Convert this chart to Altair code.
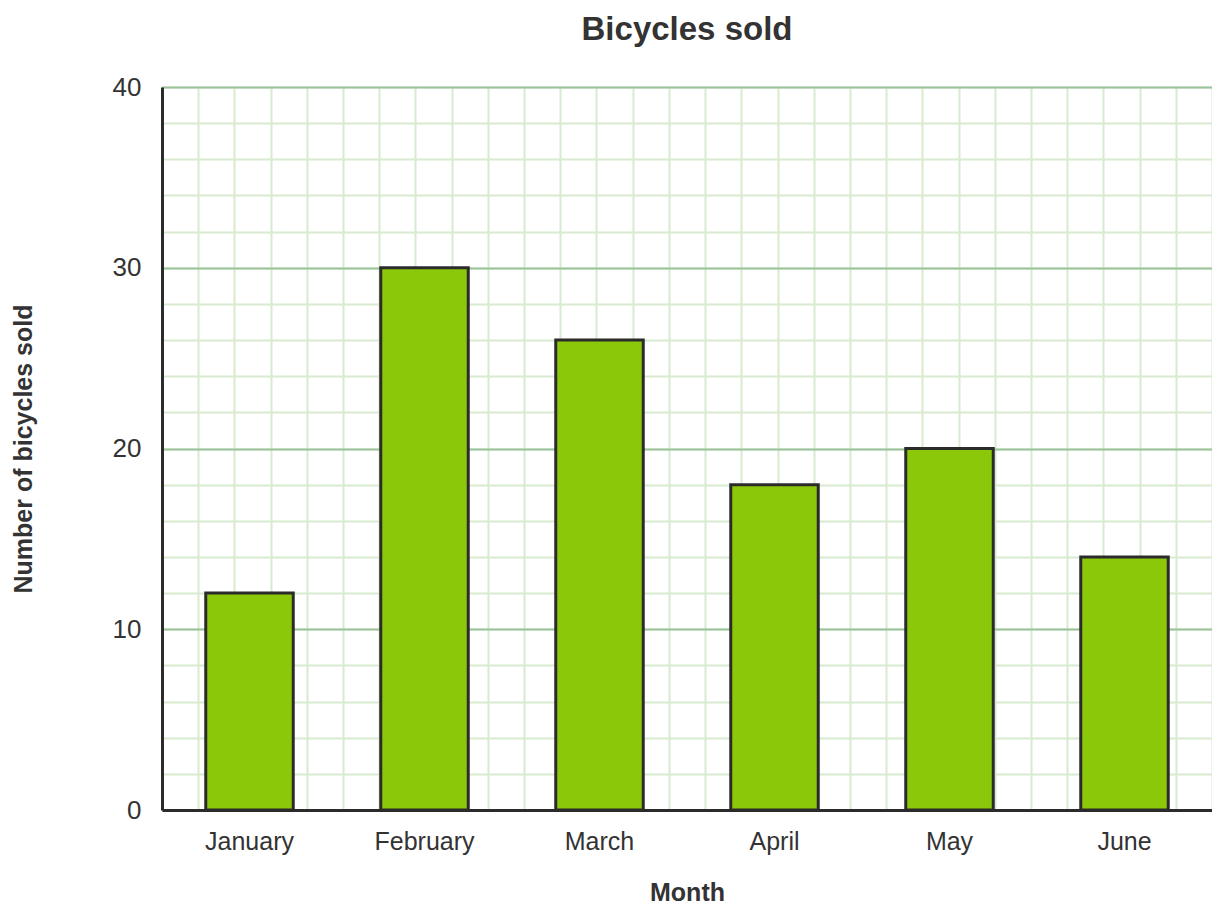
import altair as alt
import pandas as pd

months = ["January", "February", "March", "April", "May", "June"]
sold = [12, 30, 26, 18, 20, 14]
major_ticks = [0, 10, 20, 30, 40]
minor_ticks = list(range(0, 41, 2))
vgrid_ticks = list(range(0, 30))

df = pd.DataFrame({"Month": months, "Sold": sold})
grid_df = pd.DataFrame({"gx": [0, 29], "gy": [0, 40]})

FONT = "Liberation Sans"
TXT = "#333333"

minor = alt.Chart(grid_df).mark_point(opacity=0).encode(
    x=alt.X("gx:Q", scale=alt.Scale(domain=[0, 29], nice=False, zero=False),
            axis=alt.Axis(values=vgrid_ticks, grid=True, gridColor="#d8ebcf", gridWidth=2,
                          labels=False, ticks=False, domain=False, title=None, orient="top")),
    y=alt.Y("gy:Q", scale=alt.Scale(domain=[0, 40], nice=False),
            axis=alt.Axis(values=minor_ticks, grid=True, gridColor="#d8ebcf", gridWidth=2,
                          labels=False, ticks=False, domain=False, title=None, orient="right")),
)

bars = alt.Chart(df).mark_bar(color="#8bc80a", stroke="#2b2b2b", strokeWidth=3).encode(
    x=alt.X("Month:N", sort=months,
            scale=alt.Scale(paddingInner=0.5, paddingOuter=0.25),
            axis=alt.Axis(title="Month", labelAngle=0, labelFontSize=25, labelFont=FONT,
                          labelColor=TXT, labelPadding=19, ticks=False, tickSize=0,
                          domainColor="#2b2b2b", domainWidth=3, grid=False,
                          titleFont=FONT, titleFontSize=25, titleFontWeight="bold",
                          titleColor=TXT, titleY=70)),
    y=alt.Y("Sold:Q", scale=alt.Scale(domain=[0, 40], nice=False),
            axis=alt.Axis(title="Number of bicycles sold", values=major_ticks, grid=True,
                          gridColor="#9cc49c", gridWidth=2, labelFontSize=26, labelFont=FONT,
                          labelColor=TXT, labelPadding=21, ticks=False, tickSize=0,
                          domainColor="#2b2b2b", domainWidth=3,
                          titleFont=FONT, titleFontSize=25, titleFontWeight="bold",
                          titleColor=TXT, titleX=-126)),
)

chart = alt.layer(minor, bars).resolve_scale(x="independent", y="independent").properties(
    width=1050,
    height=723,
    title=alt.TitleParams("Bicycles sold", font=FONT, fontSize=33, fontWeight="bold",
                          color=TXT, offset=27, anchor="middle"),
    autosize=alt.AutoSizeParams(type="none"),
    padding={"left": 154, "top": 79, "right": 0, "bottom": 95},
).configure_view(stroke=None)

chart.save("out.html", embed_options={"renderer": "svg", "actions": False})
